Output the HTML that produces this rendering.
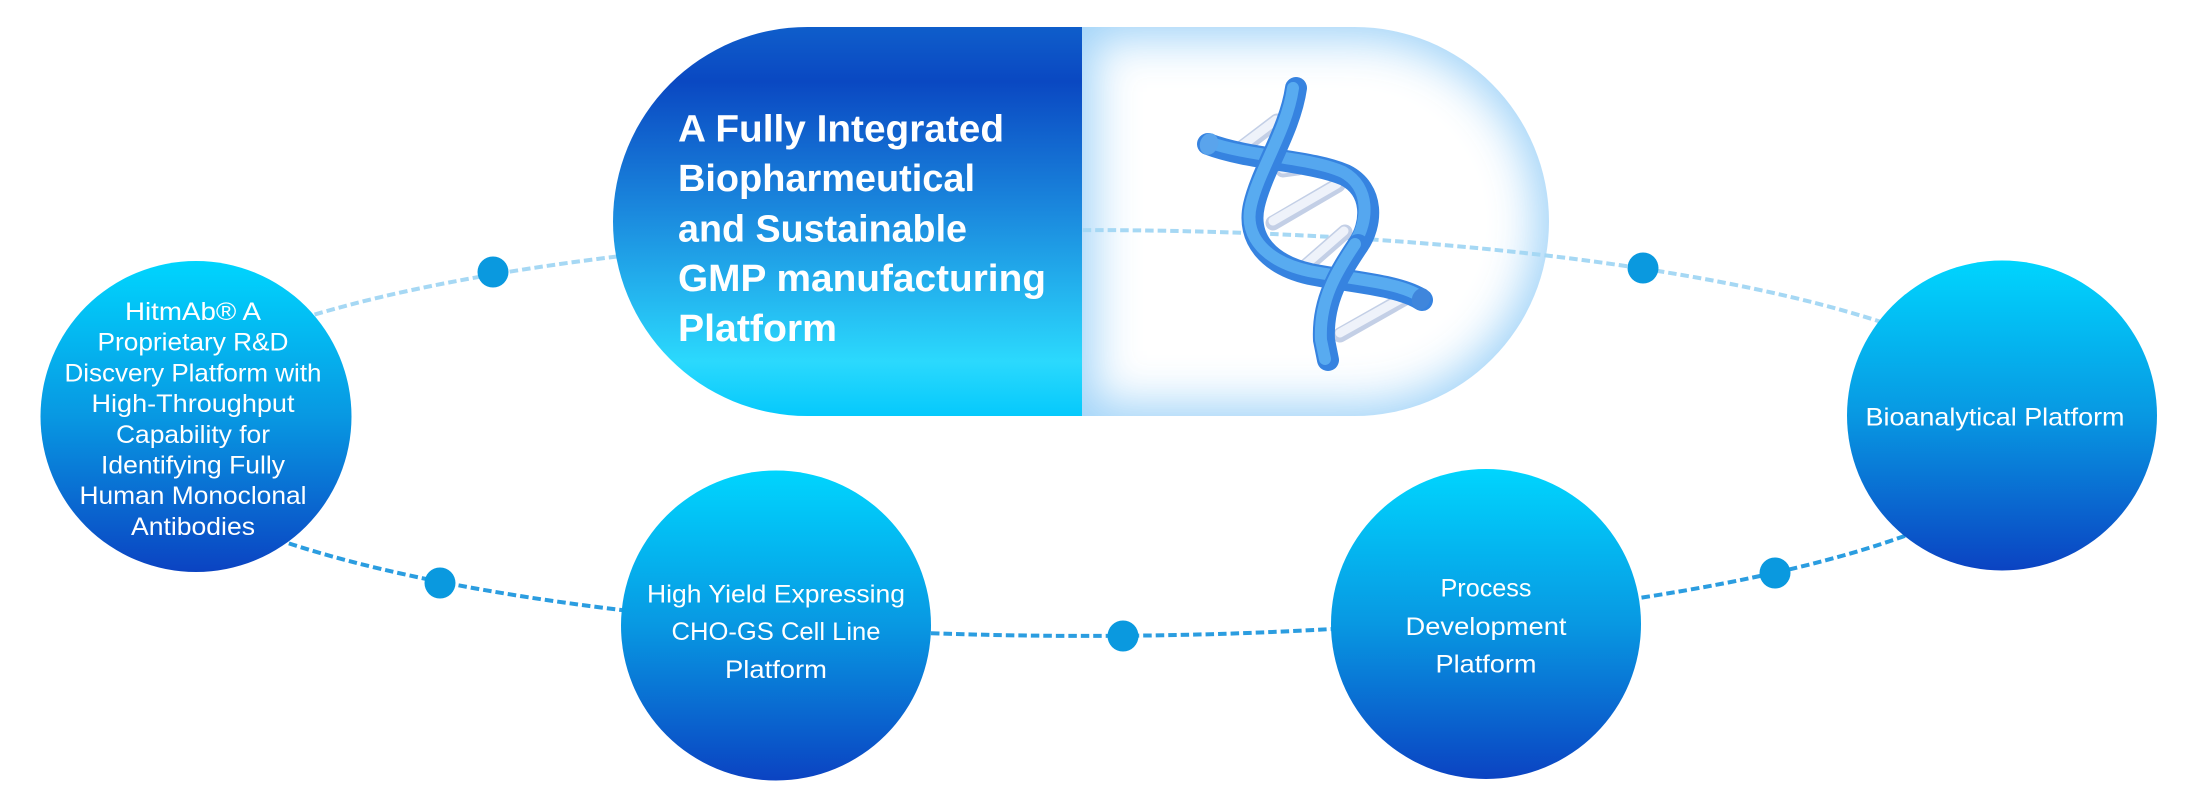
<!DOCTYPE html>
<html>
<head>
<meta charset="utf-8">
<style>
  html, body { margin:0; padding:0; background:#ffffff; }
  body { width:2194px; height:798px; position:relative; overflow:hidden; }
  #rhalf {
    position:absolute; left:1082px; top:27px; width:467px; height:389px;
    border-radius:0 194.5px 194.5px 0;
    background:#ffffff;
    box-shadow: inset 0 0 44px 12px rgba(150,206,247,0.9);
  }
  svg { position:absolute; left:0; top:0; }
  .t { font-family:"Liberation Sans", Arial, sans-serif; fill:#ffffff; }
</style>
</head>
<body>
<div id="rhalf"></div>
<svg width="2194" height="798" viewBox="0 0 2194 798" xmlns="http://www.w3.org/2000/svg">
  <defs>
    <linearGradient id="cg" x1="0" y1="0" x2="0" y2="1">
      <stop offset="0" stop-color="#00d5fe"/>
      <stop offset="0.5" stop-color="#0898e2"/>
      <stop offset="1" stop-color="#0b43c2"/>
    </linearGradient>
    <linearGradient id="lg" x1="0" y1="0" x2="0" y2="1">
      <stop offset="0" stop-color="#0f5ecb"/>
      <stop offset="0.14" stop-color="#0a48c2"/>
      <stop offset="0.48" stop-color="#1b8ade"/>
      <stop offset="0.86" stop-color="#2bd9fd"/>
      <stop offset="1" stop-color="#05c9fc"/>
    </linearGradient>
  </defs>

  <!-- dashed orbit -->
  <path d="M 136 433 A 950 203 0 0 1 2036 433" fill="none" stroke="#a6d8f4" stroke-width="4" stroke-dasharray="8.5 4"/>
  <path d="M 2036 433 A 950 203 0 0 1 136 433" fill="none" stroke="#2b9de0" stroke-width="4" stroke-dasharray="8.5 4"/>

  <!-- capsule left half -->
  <path d="M 1082 27 L 807.5 27 A 194.5 194.5 0 0 0 807.5 416 L 1082 416 Z" fill="url(#lg)"/>

  <!-- title -->
  <g class="t" font-weight="bold" font-size="38">
    <text x="678" y="141.7" textLength="326" lengthAdjust="spacingAndGlyphs">A Fully Integrated</text>
    <text x="678" y="191" textLength="297" lengthAdjust="spacingAndGlyphs">Biopharmeutical</text>
    <text x="678" y="241.7" textLength="289" lengthAdjust="spacingAndGlyphs">and Sustainable</text>
    <text x="678" y="291" textLength="368" lengthAdjust="spacingAndGlyphs">GMP manufacturing</text>
    <text x="678" y="341" textLength="159" lengthAdjust="spacingAndGlyphs">Platform</text>
  </g>

  <!-- DNA -->
  <g fill="none" stroke-linecap="round">
    <!-- rungs -->
    <g stroke="#c3cfe6" stroke-width="15">
      <line x1="1235" y1="153" x2="1277" y2="121"/>
      <line x1="1273" y1="223" x2="1338" y2="185"/>
      <line x1="1305" y1="267" x2="1345" y2="232"/>
      <line x1="1340" y1="335" x2="1407" y2="297"/>
      <line x1="1283" y1="170" x2="1298" y2="168"/>
      <line x1="1350" y1="283" x2="1368" y2="281"/>
    </g>
    <g stroke="#eef2fa" stroke-width="9">
      <line x1="1235" y1="151" x2="1276" y2="120"/>
      <line x1="1273" y1="221" x2="1337" y2="184"/>
      <line x1="1305" y1="265" x2="1344" y2="231"/>
      <line x1="1340" y1="333" x2="1406" y2="296"/>
      <line x1="1283" y1="169" x2="1298" y2="167"/>
      <line x1="1350" y1="282" x2="1368" y2="280"/>
    </g>
    <!-- strand 2 upper (back) -->
    <path d="M 1208 144 C 1250 160, 1310 160, 1345 175 C 1375 190, 1372 225, 1358 245" stroke="#3683e0" stroke-width="22"/>
    <path d="M 1208 142 C 1250 157, 1310 157, 1343 172 C 1371 187, 1368 222, 1355 242" stroke="#5eb0f2" stroke-width="12" opacity="0.8"/>
    <!-- strand 1 -->
    <path d="M 1296 88 C 1290 130, 1262 170, 1254 205 C 1246 240, 1270 265, 1310 274 C 1350 282, 1400 285, 1422 300" stroke="#3683e0" stroke-width="22"/>
    <path d="M 1293 88 C 1287 130, 1259 170, 1251 205 C 1243 238, 1268 262, 1309 271 C 1350 279, 1400 282, 1421 297" stroke="#62b5f4" stroke-width="12" opacity="0.8"/>
    <!-- strand 2 lower (front) -->
    <path d="M 1358 245 C 1340 272, 1322 300, 1324 340 L 1328 360" stroke="#3683e0" stroke-width="22"/>
    <path d="M 1355 244 C 1337 271, 1319 300, 1321 340 L 1325 359" stroke="#62b5f4" stroke-width="12" opacity="0.8"/>
  </g>
  <ellipse cx="1209" cy="144" rx="9" ry="11" fill="#5aa4ec" transform="rotate(20 1209 144)"/>
  <ellipse cx="1421" cy="299" rx="9" ry="11" fill="#3f86dc" transform="rotate(20 1421 299)"/>

  <!-- dots -->
  <g fill="#0a99df">
    <circle cx="493" cy="272" r="15.5"/>
    <circle cx="440" cy="583" r="15.5"/>
    <circle cx="1123" cy="636" r="15.5"/>
    <circle cx="1643" cy="268" r="15.5"/>
    <circle cx="1775" cy="573" r="15.5"/>
  </g>

  <!-- circles -->
  <circle cx="196" cy="416.5" r="155.5" fill="url(#cg)"/>
  <circle cx="776" cy="625.5" r="155" fill="url(#cg)"/>
  <circle cx="1486" cy="624" r="155" fill="url(#cg)"/>
  <circle cx="2002" cy="415.5" r="155" fill="url(#cg)"/>

  <!-- circle texts -->
  <g class="t" font-size="25" text-anchor="middle">
    <text x="193" y="320" textLength="136" lengthAdjust="spacingAndGlyphs">HitmAb® A</text>
    <text x="193" y="350.7" textLength="191" lengthAdjust="spacingAndGlyphs">Proprietary R&amp;D</text>
    <text x="193" y="381.4" textLength="257" lengthAdjust="spacingAndGlyphs">Discvery Platform with</text>
    <text x="193" y="412.1" textLength="203" lengthAdjust="spacingAndGlyphs">High-Throughput</text>
    <text x="193" y="442.8" textLength="154" lengthAdjust="spacingAndGlyphs">Capability for</text>
    <text x="193" y="473.5" textLength="184" lengthAdjust="spacingAndGlyphs">Identifying Fully</text>
    <text x="193" y="504.2" textLength="227" lengthAdjust="spacingAndGlyphs">Human Monoclonal</text>
    <text x="193" y="535" textLength="124" lengthAdjust="spacingAndGlyphs">Antibodies</text>

    <text x="776" y="602.7" textLength="258" lengthAdjust="spacingAndGlyphs">High Yield Expressing</text>
    <text x="776" y="640" textLength="209" lengthAdjust="spacingAndGlyphs">CHO-GS Cell Line</text>
    <text x="776" y="678" textLength="102" lengthAdjust="spacingAndGlyphs">Platform</text>

    <text x="1486" y="596.7" textLength="91" lengthAdjust="spacingAndGlyphs">Process</text>
    <text x="1486" y="635" textLength="161" lengthAdjust="spacingAndGlyphs">Development</text>
    <text x="1486" y="672.7" textLength="101" lengthAdjust="spacingAndGlyphs">Platform</text>

    <text x="1995" y="425.7" textLength="259" lengthAdjust="spacingAndGlyphs">Bioanalytical Platform</text>
  </g>
</svg>
</body>
</html>
